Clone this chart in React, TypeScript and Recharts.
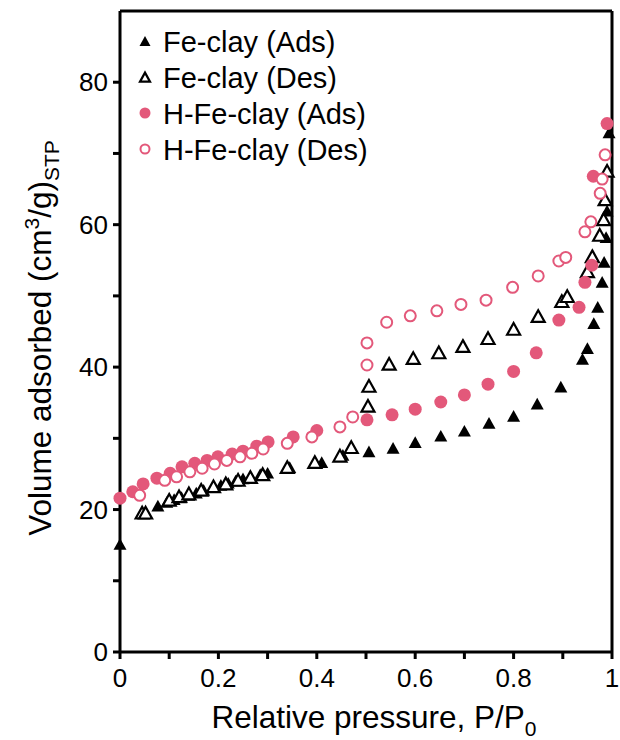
import React from "react";
import { ScatterChart, Scatter, XAxis, YAxis, ReferenceLine, Label } from "recharts";

// isotherm readings, P/P0 vs volume adsorbed
const feAdsX = [0, 0.077, 0.095, 0.11, 0.125, 0.14, 0.155, 0.17, 0.19, 0.205, 0.22, 0.235, 0.25, 0.265, 0.285, 0.3, 0.345, 0.41, 0.453, 0.506, 0.555, 0.6, 0.652, 0.7, 0.75, 0.8, 0.848, 0.896, 0.94, 0.95, 0.963, 0.971, 0.98, 0.984, 0.988, 0.99, 0.994];
const feAdsY = [15.0, 20.4, 20.9, 21.3, 21.6, 21.9, 22.2, 22.6, 23.0, 23.3, 23.6, 23.9, 24.2, 24.5, 24.8, 25.0, 25.8, 26.5, 27.5, 28.0, 28.5, 29.3, 30.2, 30.9, 32.0, 33.0, 34.7, 37.1, 41.0, 42.5, 46.0, 48.3, 51.8, 54.6, 58.1, 61.8, 72.8];

const feDesX = [0.045, 0.052, 0.1, 0.12, 0.14, 0.165, 0.19, 0.215, 0.24, 0.265, 0.29, 0.34, 0.396, 0.447, 0.47, 0.504, 0.506, 0.547, 0.596, 0.648, 0.697, 0.748, 0.8, 0.85, 0.898, 0.909, 0.95, 0.96, 0.975, 0.983, 0.986, 0.99];
const feDesY = [19.4, 19.4, 21.2, 21.7, 22.1, 22.6, 23.1, 23.5, 24.0, 24.4, 24.8, 25.8, 26.5, 27.4, 28.6, 34.4, 37.2, 40.3, 41.1, 41.9, 42.8, 43.9, 45.2, 47.0, 49.1, 49.8, 53.3, 55.4, 58.4, 60.6, 63.4, 67.4];

const hAdsX = [0, 0.026, 0.047, 0.075, 0.102, 0.126, 0.152, 0.177, 0.199, 0.228, 0.25, 0.278, 0.301, 0.352, 0.4, 0.502, 0.553, 0.6, 0.652, 0.7, 0.748, 0.8, 0.846, 0.892, 0.933, 0.945, 0.959, 0.962, 0.99];
const hAdsY = [21.6, 22.5, 23.6, 24.4, 25.1, 26.0, 26.5, 26.9, 27.4, 27.8, 28.2, 28.9, 29.5, 30.2, 31.1, 32.6, 33.3, 34.1, 35.1, 36.1, 37.6, 39.4, 42.0, 46.6, 48.4, 51.9, 54.3, 66.8, 74.2];

const hDesX = [0.04, 0.091, 0.115, 0.142, 0.167, 0.192, 0.217, 0.244, 0.268, 0.291, 0.34, 0.39, 0.447, 0.473, 0.502, 0.502, 0.542, 0.59, 0.644, 0.693, 0.744, 0.798, 0.85, 0.892, 0.906, 0.945, 0.957, 0.976, 0.98, 0.986];
const hDesY = [22.0, 24.1, 24.6, 25.3, 25.8, 26.4, 26.9, 27.4, 27.9, 28.5, 29.3, 30.2, 31.6, 33.0, 40.3, 43.4, 46.3, 47.2, 47.9, 48.8, 49.4, 51.2, 52.8, 54.9, 55.4, 59.0, 60.4, 64.4, 66.4, 69.8];

const xTicks = [0, 0.1, 0.2, 0.3, 0.4, 0.5, 0.6, 0.7, 0.8, 0.9, 1];
const yTicks = [0, 10, 20, 30, 40, 50, 60, 70, 80];
const legendNames = ["Fe-clay (Ads)", "Fe-clay (Des)", "H-Fe-clay (Ads)", "H-Fe-clay (Des)"];

const RED = "#e3587a";
const FONT = "'Liberation Sans', Arial, sans-serif";

const pts = (xs: number[], ys: number[]) => xs.map((x, i) => ({ x, y: ys[i] }));

const Tri = ({ cx, cy, filled, s = 13 }: any) => {
  const h = s * 0.9;
  const p = `${cx},${cy - h * 0.6} ${cx + s / 2},${cy + h * 0.4} ${cx - s / 2},${cy + h * 0.4}`;
  return <polygon points={p} fill={filled ? "#000" : "#fff"} stroke="#000" strokeWidth={filled ? 0 : 2.2} />;
};

const Dot = ({ cx, cy, filled, r = 6.5 }: any) => (
  <circle cx={cx} cy={cy} r={filled ? r : r - 1} fill={filled ? RED : "#fff"} stroke={RED} strokeWidth={filled ? 0 : 2} />
);

const YTitle = () => (
  <text transform="translate(51,338) rotate(-90)" textAnchor="middle" fontSize={31.5} fontFamily={FONT} fill="#000">
    Volume adsorbed (cm<tspan dy={-12} fontSize={21}>3</tspan>
    <tspan dy={12}>/g)</tspan>
    <tspan dy={8} fontSize={21}>STP</tspan>
  </text>
);

const XTitle = () => (
  <text x={374} y={728} textAnchor="middle" fontSize={31.5} fontFamily={FONT} fill="#000">
    Relative pressure, P/P<tspan dy={8} fontSize={21}>0</tspan>
  </text>
);

export default function App() {
  const tickStyle = { fill: "#000", fontSize: 26, fontFamily: FONT };
  const markers = [
    <Tri cx={7} cy={8} filled s={11} />,
    <Tri cx={7} cy={8} s={10} />,
    <Dot cx={7} cy={7} filled r={5.5} />,
    <Dot cx={7} cy={7} r={5.5} />,
  ];
  return (
    <div style={{ position: "relative", width: 620, height: 740 }}>
      <style>{`body{margin:0}`}</style>
      <ScatterChart width={620} height={740} margin={{ top: 11, right: 8, left: 0, bottom: 0 }}>
        <XAxis
          type="number"
          dataKey="x"
          domain={[0, 1]}
          ticks={xTicks}
          tickFormatter={(v) => (Math.round(v * 10) % 2 === 0 ? String(v) : "")}
          height={88}
          tick={tickStyle}
          tickSize={7}
          tickMargin={10}
          axisLine={{ stroke: "#000", strokeWidth: 3 }}
          tickLine={{ stroke: "#000", strokeWidth: 3 }}
        >
          <Label content={XTitle} />
        </XAxis>
        <YAxis
          type="number"
          dataKey="y"
          domain={[0, 90]}
          ticks={yTicks}
          tickFormatter={(v) => (v % 20 === 0 ? String(v) : "")}
          width={120}
          tick={tickStyle}
          tickSize={7}
          tickMargin={5}
          axisLine={{ stroke: "#000", strokeWidth: 3 }}
          tickLine={{ stroke: "#000", strokeWidth: 3 }}
        >
          <Label content={YTitle} />
        </YAxis>
        <ReferenceLine y={90} stroke="#000" strokeWidth={3} />
        <ReferenceLine x={1} stroke="#000" strokeWidth={3} />
        <Scatter data={pts(feAdsX, feAdsY)} isAnimationActive={false} shape={(p: any) => <Tri cx={p.cx} cy={p.cy} filled />} />
        <Scatter data={pts(feDesX, feDesY)} isAnimationActive={false} shape={(p: any) => <Tri cx={p.cx} cy={p.cy} />} />
        <Scatter data={pts(hAdsX, hAdsY)} isAnimationActive={false} shape={(p: any) => <Dot cx={p.cx} cy={p.cy} filled />} />
        <Scatter data={pts(hDesX, hDesY)} isAnimationActive={false} shape={(p: any) => <Dot cx={p.cx} cy={p.cy} />} />
      </ScatterChart>
      <div style={{ position: "absolute", left: 138, top: 24, fontFamily: FONT, fontSize: 29, lineHeight: "36px", color: "#000" }}>
        {legendNames.map((n, i) => (
          <div key={n} style={{ display: "flex", alignItems: "center" }}>
            <svg width={16} height={16} style={{ marginRight: 9 }}>{markers[i]}</svg>
            {n}
          </div>
        ))}
      </div>
    </div>
  );
}
